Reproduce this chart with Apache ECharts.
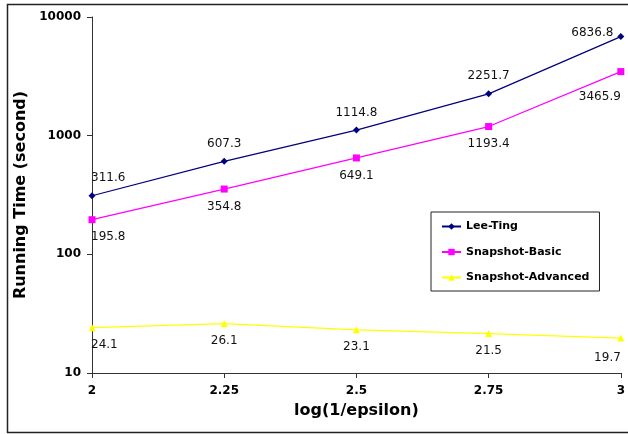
<!DOCTYPE html>
<html>
<head>
<meta charset="utf-8">
<script src="https://cdn.jsdelivr.net/npm/echarts@6/dist/echarts.min.js"></script>
<style>
  html, body { margin: 0; padding: 0; background: #fff; }
  #chart { width: 628px; height: 434px; }
</style>
</head>
<body>
<div id="chart"></div>
<script>
// x categories: log(1/epsilon)
const categories = ['2', '2.25', '2.5', '2.75', '3'];

// running times in seconds
const leeTing = [311.6, 607.3, 1114.8, 2251.7, 6836.8];
const snapshotBasic = [195.8, 354.8, 649.1, 1193.4, 3465.9];
const snapshotAdvanced = [24.1, 26.1, 23.1, 21.5, 19.7];

const FONT = 'DejaVu Sans';

// build data items; labels at the plot edges are pulled inward
function items(values, side) {
  const last = values.length - 1;
  return values.map((v, i) => {
    const label = {};
    if (i === 0) {
      label.align = 'left';
      label.offset = [-1, 0];
    } else if (i === last) {
      if (side === 'top') {
        label.position = 'left';
        label.distance = 4;
        label.offset = [0, -4];
      } else {
        label.align = 'right';
        label.offset = [0, side === 'bottomFar' ? 8 : 2];
      }
    }
    return { value: v, label: label };
  });
}

function series(name, values, color, symbol, size, side) {
  return {
    name: name,
    type: 'line',
    data: items(values, side),
    symbol: symbol,
    symbolSize: size,
    showAllSymbol: true,
    lineStyle: { color: color, width: 1.2 },
    itemStyle: { color: color },
    label: {
      show: true,
      position: side === 'top' ? 'top' : 'bottom',
      distance: 8,
      color: '#111',
      fontFamily: FONT,
      fontSize: 12
    },
    emphasis: { disabled: true }
  };
}

const chart = echarts.init(document.getElementById('chart'), null, { renderer: 'canvas' });

chart.setOption({
  animation: false,
  backgroundColor: '#fff',
  grid: { left: 92, right: 5, top: 17, bottom: 61 },
  graphic: [{
    type: 'rect',
    shape: { x: 7.5, y: 4.5, width: 640, height: 428 },
    style: { fill: 'none', stroke: '#222', lineWidth: 1.5 },
    silent: true,
    z: 100
  }],
  legend: {
    orient: 'vertical',
    left: 431,
    top: 212,
    padding: [8, 10, 7, 10],
    itemGap: 12.5,
    itemWidth: 19,
    itemHeight: 8,
    borderColor: '#222',
    borderWidth: 1,
    backgroundColor: '#fff',
    textStyle: { fontFamily: FONT, fontWeight: 'bold', fontSize: 11, color: '#000', lineHeight: 13 },
    data: ['Lee-Ting', 'Snapshot-Basic', 'Snapshot-Advanced']
  },
  xAxis: {
    type: 'category',
    data: categories,
    boundaryGap: false,
    name: 'log(1/epsilon)',
    nameLocation: 'middle',
    nameGap: 30,
    nameTextStyle: { fontFamily: FONT, fontWeight: 'bold', fontSize: 16, color: '#000' },
    axisLine: { lineStyle: { color: '#333', width: 1 } },
    axisTick: { alignWithLabel: true, length: 5, lineStyle: { color: '#333' } },
    axisLabel: { fontFamily: FONT, fontWeight: 'bold', fontSize: 12, color: '#000', margin: 12 },
    splitLine: { show: false }
  },
  yAxis: {
    type: 'log',
    logBase: 10,
    min: 10,
    max: 10000,
    name: 'Running Time (second)',
    nameLocation: 'middle',
    nameGap: 54,
    nameTextStyle: { fontFamily: FONT, fontWeight: 'bold', fontSize: 16, color: '#000' },
    axisLine: { show: true, lineStyle: { color: '#333', width: 1 } },
    axisTick: { show: true, length: 5, lineStyle: { color: '#333' } },
    axisLabel: {
      fontFamily: FONT, fontWeight: 'bold', fontSize: 12, color: '#000', margin: 11,
      formatter: v => String(Math.round(v))
    },
    splitLine: { show: false },
    minorTick: { show: false }
  },
  series: [
    series('Lee-Ting', leeTing, '#000080', 'diamond', 7, 'top'),
    series('Snapshot-Basic', snapshotBasic, '#FF00FF', 'rect', 7, 'bottomFar'),
    series('Snapshot-Advanced', snapshotAdvanced, '#FFFF00', 'triangle', 7, 'bottom')
  ]
});
</script>
</body>
</html>
